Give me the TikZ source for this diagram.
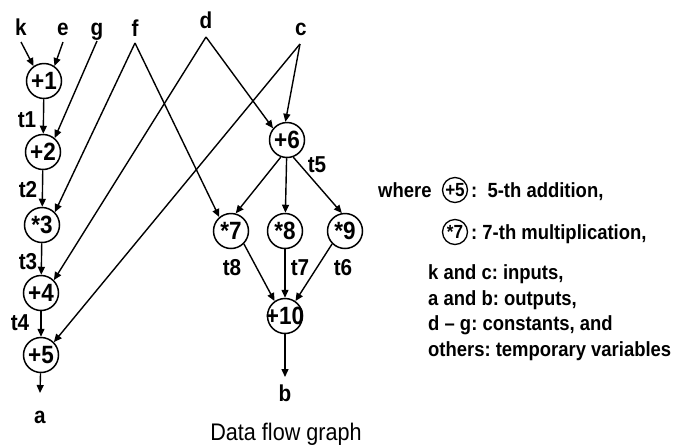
\documentclass[tikz,border=0pt]{standalone}
\usepackage{fontspec}
\setmainfont{Liberation Sans}[FakeStretch=0.9]
\usetikzlibrary{arrows.meta}
\newcommand\optxt[1]{\makebox[0pt]{#1}}
\frenchspacing
\begin{document}
\begin{tikzpicture}[x=1pt,y=-1pt,
  op/.style={circle,draw,line width=1.5pt,minimum size=35pt,inner sep=0pt,
    font=\fontsize{25}{25}\selectfont\bfseries},
  smallop/.style={circle,draw,line width=1.3pt,minimum size=25pt,inner sep=0pt,
    font=\fontsize{19}{19}\selectfont\bfseries},
  lbl/.style={inner sep=0pt,anchor=base,font=\fontsize{23}{23}\selectfont\bfseries},
  tlbl/.style={inner sep=0pt,font=\fontsize{23}{23}\selectfont\bfseries},
  legend/.style={inner sep=0pt,anchor=base west,font=\fontsize{20.5}{20.5}\selectfont\bfseries},
  arr/.style={line width=1.4pt,-{Triangle[length=8pt,width=7pt]}}]
\useasboundingbox (0,0) rectangle (674,445);

% inputs and constants, with the points their wires leave from
\node[lbl] (k) at (21,35) {k};  \coordinate (ka) at (21,42);
\node[lbl] (e) at (63,35) {e};  \coordinate (ea) at (63,42);
\node[lbl] (g) at (97,35) {g};  \coordinate (ga) at (97,41);
\node[lbl] (f) at (135,36) {f}; \coordinate (fa) at (135,43);
\node[lbl] (d) at (206,28) {d}; \coordinate (da) at (206,37);
\node[lbl] (c) at (301,35) {c}; \coordinate (ca) at (300,44);

% operations
\node[op] (n1)  at (44,81)   {\optxt{+1}};
\node[op] (n2)  at (43,152)  {\optxt{+2}};
\node[op] (n3)  at (42,225)  {\optxt{*3}};
\node[op] (n4)  at (41,293)  {\optxt{+4}};
\node[op] (n5)  at (41,355)  {\optxt{+5}};
\node[op] (n6)  at (287,140) {\optxt{+6}};
\node[op] (n7)  at (231,231) {\optxt{*7}};
\node[op] (n8)  at (285,231) {\optxt{*8}};
\node[op] (n9)  at (345,231) {\optxt{*9}};
\node[op] (n10) at (285,316) {\optxt{+10}};

% outputs
\coordinate (aout) at (40,393);
\coordinate (bout) at (285,377);
\node[lbl] (a) at (40,423) {a};
\node[lbl] (b) at (285,401) {b};

% wires
\draw[arr] (ka) -- (n1.125);
\draw[arr] (ea) -- (n1.55);
\draw[arr] (n1) -- (n2);
\draw[arr] (ga) -- (n2.50);
\draw[arr] (n2) -- (n3);
\draw[arr] (fa) -- (n3.45);
\draw[arr] (fa) -- (n7.130);
\draw[arr] (n3) -- (n4);
\draw[arr] (da) -- (n4.45);
\draw[arr] (da) -- (n6.140);
\draw[arr] (n4) -- (n5);
\draw[arr] (ca) -- (n5.45);
\draw[arr] (ca) -- (n6.95);
\draw[arr] (n6.250) -- (n7.75);
\draw[arr] (n6) -- (n8);
\draw[arr] (n6.290) -- (n9.100);
\draw[arr] (n7.-45) -- (n10.125);
\draw[arr] (n8) -- (n10);
\draw[arr] (n9.225) -- (n10.55);
\draw[arr] (n5) -- (aout);
\draw[arr] (n10) -- (bout);

% temporaries
\node[tlbl] (t1) at (27,120) {t1};
\node[tlbl] (t2) at (28,190) {t2};
\node[tlbl] (t3) at (28,262) {t3};
\node[tlbl] (t4) at (20,323) {t4};
\node[tlbl] (t5) at (317,165) {t5};
\node[tlbl] (t8) at (232,268) {t8};
\node[tlbl] (t7) at (300,268) {t7};
\node[tlbl] (t6) at (343,268) {t6};

% caption
\node[inner sep=0pt,anchor=base,font=\fontsize{24}{24}\selectfont] (cap) at (286,440) {Data flow graph};

% legend
\node[legend] (wh) at (378,197) {where};
\node[smallop] (l5) at (455,190) {\optxt{+5}};
\node[legend] (l5t) at (471,197) {:\ \ 5-th addition,};
\node[smallop] (l7) at (455,232) {\optxt{*7}};
\node[legend] (l7t) at (471,239) {: 7-th multiplication,};
\node[legend] (li1) at (428,279) {k and c: inputs,};
\node[legend] (li2) at (428,305) {a and b: outputs,};
\node[legend] (li3) at (428,330) {d -- g: constants, and};
\node[legend] (li4) at (428,356) {others: temporary variables};
\end{tikzpicture}
\end{document}
